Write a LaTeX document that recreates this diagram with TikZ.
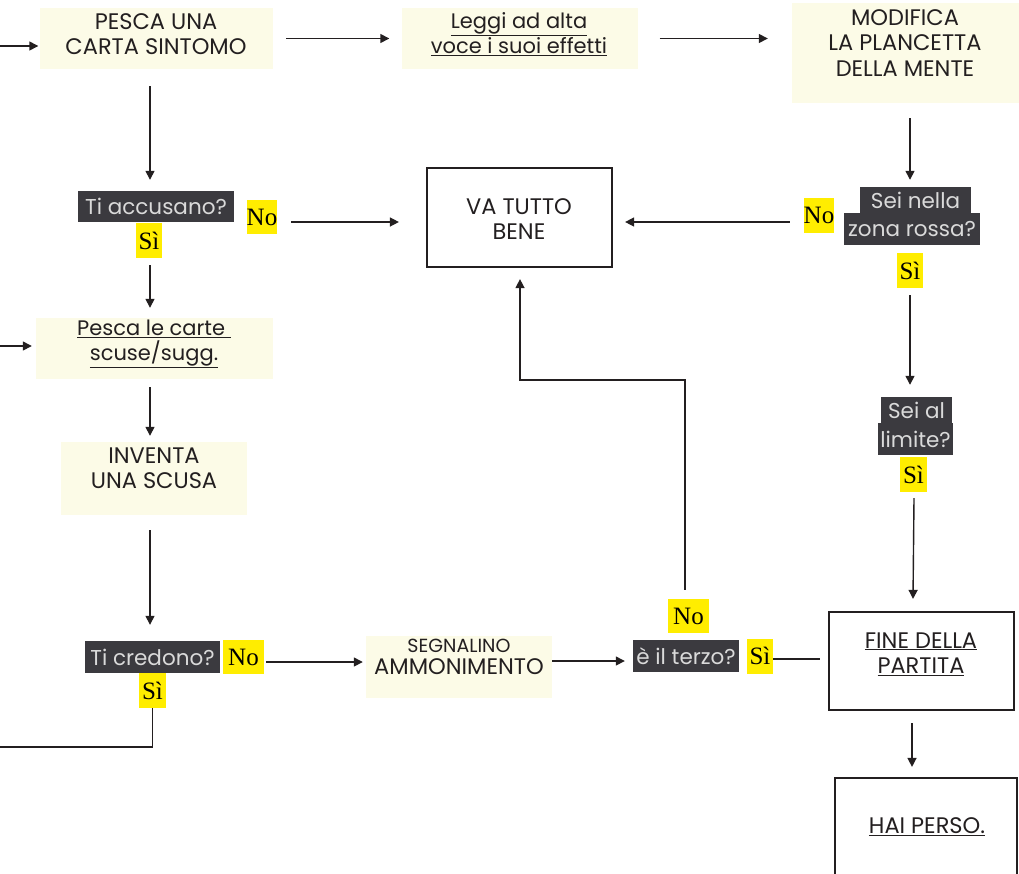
\documentclass[tikz,border=0pt]{standalone}
\usepackage{fontspec}
\setmainfont{Poppins}
\newfontfamily\serifyn{Liberation Serif}
\usetikzlibrary{arrows.meta,calc}
\definecolor{cream}{HTML}{FCFBE7}
\definecolor{darkbox}{HTML}{3B3A3F}
\definecolor{qtext}{HTML}{DADADA}
\definecolor{yel}{HTML}{FFED00}
\definecolor{ink}{HTML}{231F20}
\begin{document}
\begin{tikzpicture}[x=1pt,y=-1pt,
  arr/.style={draw=ink, line width=1.4pt, -{Triangle[length=9pt,width=9pt]}},
  ln/.style={draw=ink, line width=1.4pt},
  cbox/.style={fill=cream, inner sep=0pt},
  wbox/.style={draw=ink, line width=2.2pt, fill=white, inner sep=0pt},
  txt/.style={font=\fontsize{21}{25}\selectfont, text=ink, align=center, inner sep=0pt},
  captxt/.style={txt, font=\fontsize{22.5}{25.5}\selectfont},
  qbox/.style={fill=darkbox, text=qtext, font=\fontsize{21.5}{23}\selectfont, inner sep=0pt},
  yn/.style={fill=yel, text=black, font=\serifyn\fontsize{25}{25}\selectfont, inner sep=0pt}
]
\useasboundingbox (0,0) rectangle (1019,873);

% boxes
\node[cbox, minimum width=233pt, minimum height=61pt] (b1) at (156.5,38.5) {};
\node[captxt] (b1t) at (156,34) {PESCA UNA\\CARTA SINTOMO};
\node[cbox, minimum width=236pt, minimum height=61pt] (b2) at (519.5,38.5) {};
\node[txt] (b2t) at (519,34) {\underline{Leggi ad alta}\\\underline{voce i suoi effetti}};
\node[cbox, minimum width=227pt, minimum height=100pt] (b3) at (905.5,53) {};
\node[captxt] (b3t) at (905,43) {MODIFICA\\LA PLANCETTA\\DELLA MENTE};

\node[qbox, minimum width=156pt, minimum height=31pt] (ta) at (156,206.5) {Ti accusano?};
\node[yn, minimum width=30pt, minimum height=34pt] (noa) at (262,217) {No};
\node[yn, minimum width=26pt, minimum height=35pt] (sia) at (149,240.5) {Sì};

\node[wbox, minimum width=185pt, minimum height=99pt] (vb) at (519.5,217.5) {};
\node[captxt] (vbt) at (519,219) {VA TUTTO\\BENE};

\node[yn, minimum width=30pt, minimum height=35pt] (noz) at (819,215.5) {No};
\node[qbox, minimum width=111pt, minimum height=26pt] (sz1) at (915.5,200) {Sei nella};
\node[qbox, minimum width=136pt, minimum height=32pt] (sz2) at (912,229) {zona rossa?};
\node[yn, minimum width=26pt, minimum height=35pt] (sisz) at (910,270.5) {Sì};

\node[cbox, minimum width=237pt, minimum height=61pt] (pc) at (154.5,348.5) {};
\node[txt] (pct) at (154,344) {\underline{Pesca le carte\ }\\\underline{scuse/sugg.}};
\node[cbox, minimum width=186pt, minimum height=73pt] (inv) at (154,478.5) {};
\node[captxt] (invt) at (154,468) {INVENTA\\UNA SCUSA};

\node[qbox, minimum width=71pt, minimum height=26pt] (sl1) at (916.5,410) {Sei al};
\node[qbox, minimum width=75pt, minimum height=32pt] (sl2) at (915.5,439) {limite?};
\node[yn, minimum width=27pt, minimum height=35pt] (sisl) at (913.5,474.5) {Sì};

\node[qbox, minimum width=135pt, minimum height=32pt] (tc) at (152.5,657) {Ti credono?};
\node[yn, minimum width=41pt, minimum height=34pt] (noc) at (243.5,657) {No};
\node[yn, minimum width=27pt, minimum height=35pt] (sic) at (152.5,690.5) {Sì};

\node[cbox, minimum width=186pt, minimum height=62pt] (sg) at (459,666.5) {};
\node[txt, font=\fontsize{19}{21}\selectfont] (sgt1) at (459,646) {SEGNALINO};
\node[captxt] (sgt2) at (459,667) {AMMONIMENTO};

\node[qbox, minimum width=106pt, minimum height=32pt] (ter) at (686,656) {è il terzo?};
\node[yn, minimum width=41pt, minimum height=34pt] (noter) at (688.5,616) {No};
\node[yn, minimum width=26pt, minimum height=35pt] (siter) at (760,656) {Sì};

\node[wbox, minimum width=185pt, minimum height=98pt] (fine) at (921.5,661) {};
\node[captxt] (finet) at (921,654) {\underline{FINE DELLA}\\\underline{PARTITA}};
\node[wbox, minimum width=182pt, minimum height=124pt] (hai) at (926,840) {};
\node[captxt] (hait) at (927,827) {\underline{HAI PERSO.}};

% free ends
\coordinate (in1) at (0,46);
\coordinate (in2) at (0,346);
\coordinate (out1) at (0,747);

% connectors
\draw[arr, shorten >=1.5pt] (in1) -- (in1 -| b1.west);
\draw[arr] ($(b1.east)+(13,0)$) -- ($(b2.west)+(-12,0)$);
\draw[arr] ($(b2.east)+(22,0)$) -- ($(b3.west |- b2.east)+(-24,0)$);
\draw[arr] ($(b3.south)+(4.5,15)$) -- ($(sz1.north)+(-5.5,-7)$);
\draw[arr] ($(noz.west)+(-14,6.5)$) -- ($(vb.east)+(12,4.5)$);
\draw[arr] ($(sisz.south)+(0,7)$) -- ($(sl1.north)+(-6.5,-12)$);
\draw[arr] ($(sisl.south)+(0.5,6)$) -- ($(fine.north)+(-8.5,-12)$);
\draw[arr] ($(fine.south)+(-9.5,12)$) -- ($(hai.north)+(-14,-10)$);
\draw[arr] ($(b1.south)+(-6.5,17)$) -- ($(ta.north)+(-6,-11)$);
\draw[arr] ($(noa.east)+(14,5)$) -- ($(vb.west)+(-27,4.5)$);
\draw[arr] ($(sia.south)+(1,7)$) -- ($(pc.north)+(-4.5,-10)$);
\draw[arr, shorten >=4pt] (in2) -- (in2 -| pc.west);
\draw[arr] ($(pc.south)+(-4.5,8)$) -- ($(inv.north)+(-4,-6)$);
\draw[arr] ($(inv.south)+(-4,15)$) -- ($(tc.north)+(-2.5,-16)$);
\draw[ln] (sic.south) |- (out1);
\draw[arr] ($(noc.east)+(2,5)$) -- ($(sg.west)+(-3,-4.5)$);
\draw[arr] ($(sg.east)+(0,-5.5)$) -- ($(ter.west)+(-8,5)$);
\draw[ln] ($(siter.east)+(0,3)$) -- ($(fine.west)+(-8,-2)$);
\draw[arr] ($(noter.north)+(-3.5,-9)$) -- ++(0,-210) -| ($(vb.south)+(0.5,11)$);
\end{tikzpicture}
\end{document}
